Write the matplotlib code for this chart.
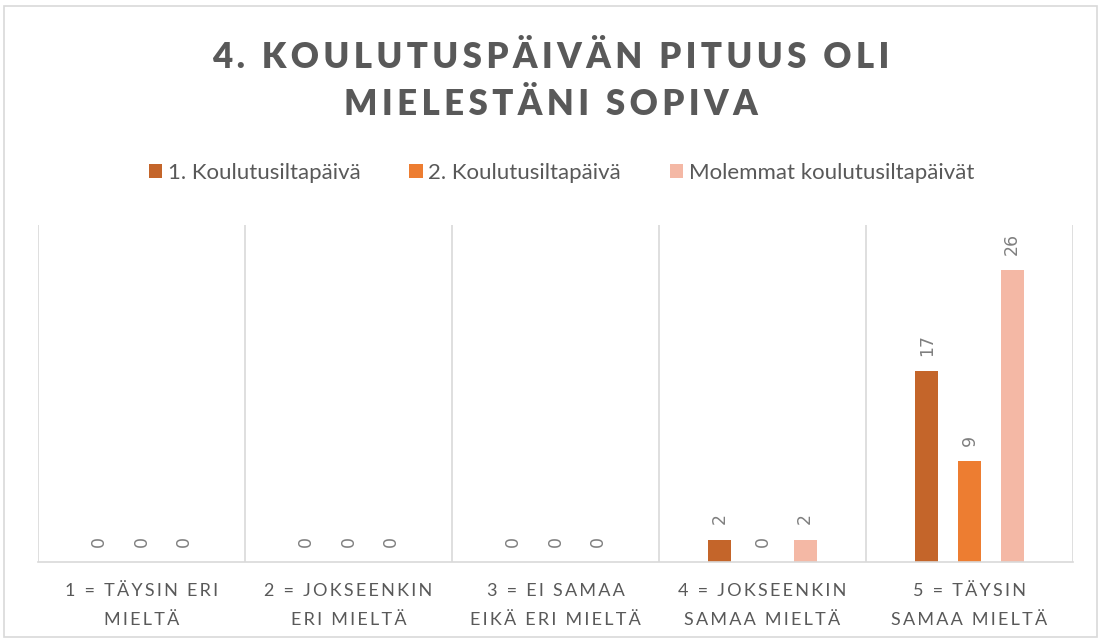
import matplotlib
matplotlib.use("Agg")
import matplotlib.pyplot as plt
from matplotlib.patches import Rectangle
import numpy as np

plt.rcParams['font.family'] = ['Lato', 'DejaVu Sans']

categories = ["1 = TÄYSIN ERI\nMIELTÄ", "2 = JOKSEENKIN\nERI MIELTÄ", "3 = EI SAMAA\nEIKÄ ERI MIELTÄ",
              "4 = JOKSEENKIN\nSAMAA MIELTÄ", "5 = TÄYSIN\nSAMAA MIELTÄ"]
series_names = ["1. Koulutusiltapäivä", "2. Koulutusiltapäivä", "Molemmat koulutusiltapäivät"]
day1 = [0, 0, 0, 2, 17]
day2 = [0, 0, 0, 0, 9]
both = [0, 0, 0, 2, 26]
colors = ['#C4652A', '#ED7D31', '#F4B8A5']
title = "4. KOULUTUSPÄIVÄN PITUUS OLI\nMIELESTÄNI SOPIVA"

grey = '#595959'


def spaced(s, sp='\u2009'):
    # fake letter spacing like in the office chart
    return '\n'.join(sp.join(line) for line in s.split('\n'))


fig = plt.figure(figsize=(11.01, 6.42), dpi=100)
fig.patches.append(Rectangle((4 / 1101, 5 / 642), 1093 / 1101, 631 / 642, transform=fig.transFigure,
                             fill=False, edgecolor='#d9d9d9', lw=1.2))
ax = fig.add_axes([38 / 1101, 80 / 642, 1035 / 1101, 337 / 642])

x = np.arange(len(categories))
w = 0.111
step = 0.206
for i, (vals, name, c) in enumerate(zip([day1, day2, both], series_names, colors)):
    bars = ax.bar(x + (i - 1) * step, vals, w, color=c, label=name)
    for b, v in zip(bars, vals):
        ax.annotate(str(v), (b.get_x() + b.get_width() / 2, b.get_height()), xytext=(0, 11),
                    textcoords='offset points', rotation=90, ha='center', va='bottom',
                    fontsize=12.5, color='#7f7f7f', family='DejaVu Sans')

ax.set_xlim(-0.5, len(categories) - 0.5)
ax.set_ylim(0, 30)
ax.set_yticks([])
ax.set_xticks(x)
ax.set_xticklabels([spaced(c) for c in categories], fontsize=13, color=grey, linespacing=2.0)
ax.tick_params(axis='x', length=0, pad=15)
for b in np.arange(-0.5, len(categories), 1):
    ax.axvline(b, color='#d9d9d9', lw=1.2, zorder=0)
for s in ['top', 'left', 'right']:
    ax.spines[s].set_visible(False)
ax.spines['bottom'].set_color('#d9d9d9')
ax.spines['bottom'].set_linewidth(1.2)

fig.text(0.5, 1 - 81 / 642, spaced(title), ha='center', va='center', fontsize=25, fontweight='heavy',
         color=grey, linespacing=1.5)
fig.legend(loc='center', bbox_to_anchor=(0.51, 1 - 173 / 642), ncol=3, frameon=False, fontsize=16,
           labelcolor=grey, handlelength=0.6, handleheight=0.6, handletextpad=0.25, columnspacing=2.2)

fig.savefig('out.png', dpi=100)
